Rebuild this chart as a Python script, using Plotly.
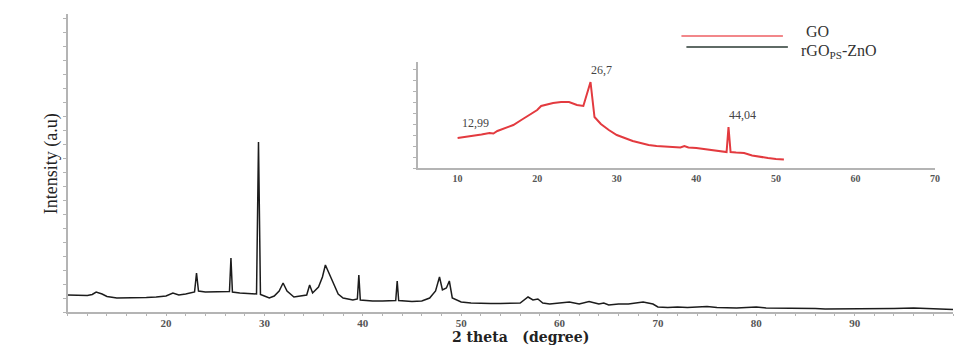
import plotly.graph_objects as go

# ---- main pattern: rGO_PS-ZnO (arbitrary intensity units) ----
zno_theta = [10, 11, 12, 12.5, 12.9, 13.5, 14, 15, 16, 17, 18, 19, 20, 20.7, 21.3, 22, 22.9,
             23.1, 23.3, 24, 25, 26, 26.45, 26.6, 26.75, 27.5, 28, 28.5, 29.2, 29.4, 29.6, 30,
             30.5, 31, 31.5, 31.9, 32.3, 33, 33.6, 34.3, 34.6, 34.9, 35.5, 35.9, 36.2, 36.6, 37,
             37.5, 38, 39, 39.45, 39.6, 39.75, 41, 42, 43.35, 43.5, 43.65, 45, 46, 46.8, 47.4,
             47.8, 48.1, 48.5, 48.8, 49.1, 50, 51, 52, 53, 54, 55, 56, 56.8, 57.3, 57.8, 58.3,
             59, 60, 61, 62, 63, 64, 64.5, 65, 66, 67, 68.5, 69.5, 70, 71, 72, 73, 74, 75,
             76, 77, 78, 79, 80, 81, 82, 83, 84, 85, 86, 87, 88, 89, 90, 92, 94, 96, 98, 100]
zno_int = [17, 17, 16.5, 17.5, 20, 18, 15.5, 14, 14, 14, 14.5, 15, 16, 19, 17, 18, 20,
           39, 21, 20, 20, 20, 20.5, 54, 20, 19, 18.5, 18, 18, 170, 17.5, 16,
           14, 16, 21, 29, 21, 15, 16, 17, 27, 19, 25, 35, 47, 38, 28,
           18, 14, 12, 13, 37, 12, 11, 11, 11.5, 31, 11.5, 10.5, 11, 14, 21,
           35, 22, 24, 31, 14, 10, 9, 8.5, 8.5, 8.5, 8.5, 9, 15, 12, 13, 9,
           8, 9, 10, 8, 10.5, 8, 9, 7, 8, 8, 10, 8, 5, 4.5, 5, 4.5, 5, 5.5,
           4.5, 4, 4, 4.5, 5, 4, 4, 4, 4, 3.5, 3.5, 3, 3, 3.5, 3, 3, 3.5, 4, 3, 2.5]

# ---- inset: GO ----
go_theta = [10, 11, 12, 13, 14, 14.5, 15, 16, 17, 18, 19, 20, 20.5, 21, 22, 23, 24, 25, 25.8,
            26.7, 27.2, 28, 29, 30, 31, 32, 33, 34, 35, 36, 37, 38, 38.5, 39, 40, 41, 42,
            43, 43.8, 44.04, 44.3, 45, 46, 47, 48, 49, 50, 51]
go_int = [30, 31, 32, 33.5, 35, 34.5, 37, 40, 43, 48, 53, 58, 62, 63, 65, 66, 66, 63, 62,
          86, 51, 44, 38, 33, 30, 27, 25, 23, 22, 21.5, 21, 20.5, 22, 20.5, 20, 19, 18.5,
          17, 16, 41, 16, 15.5, 15, 12.5, 11, 10, 9, 8.5]

inset_labels = ["12,99", "26,7", "44,04"]
inset_label_theta = [12.99, 26.7, 44.04]
inset_label_int = [33.5, 86, 41]

main_ticks = [20, 30, 40, 50, 60, 70, 80, 90]
inset_ticks = [10, 20, 30, 40, 50, 60, 70]

W, H = 960, 345
def px(x):
    return x / W
def py(y):
    return (H - y) / H

fig = go.Figure()
fig.add_trace(go.Scatter(x=zno_theta, y=zno_int, mode="lines",
                         line=dict(color="#1c1c1c", width=1.5),
                         name="rGO<sub>PS</sub>-ZnO", showlegend=False,
                         xaxis="x", yaxis="y"))
fig.add_trace(go.Scatter(x=go_theta, y=go_int, mode="lines",
                         line=dict(color="#e33a3f", width=2),
                         name="GO", showlegend=False,
                         xaxis="x2", yaxis="y2"))

tickfont = dict(family="Liberation Serif", size=11, color="#555", weight="bold")
axline = "#b4b4b4"

fig.update_layout(
    width=W, height=H,
    margin=dict(l=0, r=0, t=0, b=0),
    paper_bgcolor="white", plot_bgcolor="rgba(0,0,0,0)",
    xaxis=dict(domain=[px(68), px(958)], range=[10, 100], tickvals=main_ticks,
               ticktext=[str(t) for t in main_ticks], tickfont=tickfont,
               showline=True, linecolor=axline, linewidth=1.5, showgrid=False,
               zeroline=False, ticks="",
               minor=dict(dtick=2, ticks="outside", ticklen=2, tickcolor=axline),
               anchor="y"),
    yaxis=dict(domain=[py(312), py(14)], range=[0, 298], showticklabels=False,
               showline=True, linecolor=axline, linewidth=1.5, showgrid=False,
               zeroline=False, ticks="outside", ticklen=3, tickcolor=axline,
               dtick=14, anchor="x"),
    xaxis2=dict(domain=[px(420), px(940)], range=[5, 70], tickvals=inset_ticks,
                ticktext=[str(t) for t in inset_ticks],
                tickfont=dict(family="Liberation Serif", size=10, color="#555", weight="bold"),
                showline=True, linecolor=axline, linewidth=1.5, showgrid=False,
                zeroline=False, ticks="", anchor="y2"),
    yaxis2=dict(domain=[py(168), py(62)], range=[0, 106], showticklabels=False,
                showline=True, linecolor=axline, linewidth=1.5, showgrid=False,
                zeroline=False, ticks="outside", ticklen=3, tickcolor=axline,
                dtick=11, anchor="x2"),
)

annotations = []
# inset peak labels
for txt, t, yv in zip(inset_labels, inset_label_theta, inset_label_int):
    first = (t == inset_label_theta[0])
    annotations.append(dict(x=t, y=yv, xref="x2", yref="y2", text=txt, showarrow=False,
                            xanchor="center" if first else "left", yanchor="bottom",
                            xshift=-6 if first else -2, yshift=3,
                            font=dict(family="Liberation Serif", size=12, color="#444")))
# axis titles
annotations.append(dict(x=px(40), y=py(164), xref="paper", yref="paper",
                        text="Intensity (a.u)", textangle=-90, showarrow=False,
                        font=dict(family="Liberation Serif", size=18, color="#222")))
annotations.append(dict(x=px(523), y=py(337), xref="paper", yref="paper",
                        text="2 theta   (degree)", showarrow=False, yanchor="middle",
                        font=dict(family="DejaVu Serif", size=14, color="#222", weight="bold")))
# legend
annotations.append(dict(x=px(808), y=py(31), xref="paper", yref="paper", text="GO",
                        showarrow=False, xanchor="left", yanchor="middle",
                        font=dict(family="Liberation Serif", size=16, color="#333")))
annotations.append(dict(x=px(803), y=py(51), xref="paper", yref="paper",
                        text="rGO<sub>PS</sub>-ZnO", showarrow=False, xanchor="left",
                        yanchor="middle",
                        font=dict(family="Liberation Serif", size=16, color="#333")))
fig.update_layout(annotations=annotations)

fig.update_layout(shapes=[
    dict(type="line", xref="paper", yref="paper", x0=px(685), x1=px(787),
         y0=py(36), y1=py(36), line=dict(color="#f2878a", width=2)),
    dict(type="line", xref="paper", yref="paper", x0=px(690), x1=px(792),
         y0=py(47), y1=py(47), line=dict(color="#2a3a33", width=1.5)),
])

fig.write_html("out.html")
